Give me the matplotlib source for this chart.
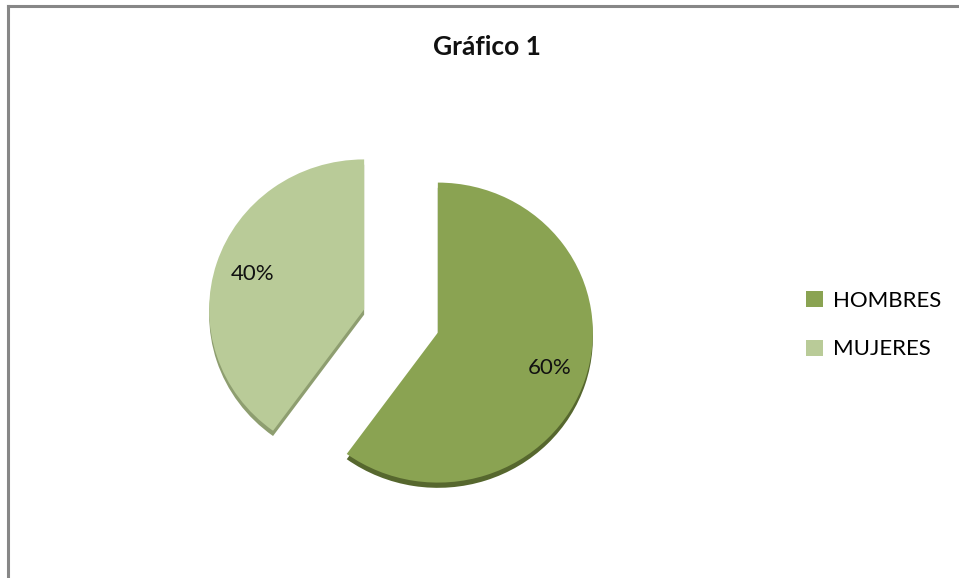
import matplotlib.pyplot as plt
from matplotlib.lines import Line2D
from matplotlib.patches import Patch

plt.rcParams['font.family'] = ['Lato', 'DejaVu Sans']

# Datos del gráfico
categorias = ['HOMBRES', 'MUJERES']
porcentajes = [60, 40]
colores = ['#8aa352', '#b9cb98']
colores_borde = ['#56672e', '#8e9e70']
titulo = 'Gráfico 1'

W, H = 959, 578
fig = plt.figure(figsize=(W / 100, H / 100), dpi=100)

# Ejes del pastel (escala ligeramente mayor en x, como en la vista en perspectiva)
cx, cy = 401, H - 321
sx, sy = 155, 150
half = 200
ax = fig.add_axes([(cx - half) / W, (cy - half) / H, 2 * half / W, 2 * half / H])

explode = [0.25, 0.25]

# Borde oscuro inferior para dar algo de volumen
ax.pie(porcentajes, startangle=90, counterclock=False, explode=explode,
       colors=colores_borde, center=(0.0, -0.035), radius=1.0,
       wedgeprops=dict(linewidth=0))

wedges, _, autotexts = ax.pie(
    porcentajes, startangle=90, counterclock=False, explode=explode,
    colors=colores, radius=1.0, autopct='%1.0f%%', pctdistance=0.76,
    wedgeprops=dict(linewidth=0),
    textprops=dict(fontsize=16, color='#111111'))
ax.set_aspect('auto')
ax.set_xlim(-half / sx, half / sx)
ax.set_ylim(-half / sy, half / sy)
ax.axis('off')

fig.text(487 / W, 1 - 47 / H, titulo, ha='center', va='center',
         fontsize=19, fontweight='bold', color='#111111')

handles = [Patch(facecolor=c, edgecolor='none') for c in colores]
fig.legend(handles, categorias, loc='center left',
           bbox_to_anchor=(806 / W, 1 - 325 / H), frameon=False,
           fontsize=16, handlelength=0.75, handleheight=0.75,
           handletextpad=0.45, labelspacing=1.3, borderaxespad=0,
           borderpad=0)

# Marco del área del gráfico (solo bordes superior e izquierdo visibles)
fig.add_artist(Line2D([8 / W, 1.0], [1 - 5.5 / H, 1 - 5.5 / H],
                      color='#878787', linewidth=2.2))
fig.add_artist(Line2D([8 / W, 8 / W], [0.0, 1 - 5.5 / H],
                      color='#878787', linewidth=2.2))

fig.savefig('out.png', dpi=100, facecolor='white')
